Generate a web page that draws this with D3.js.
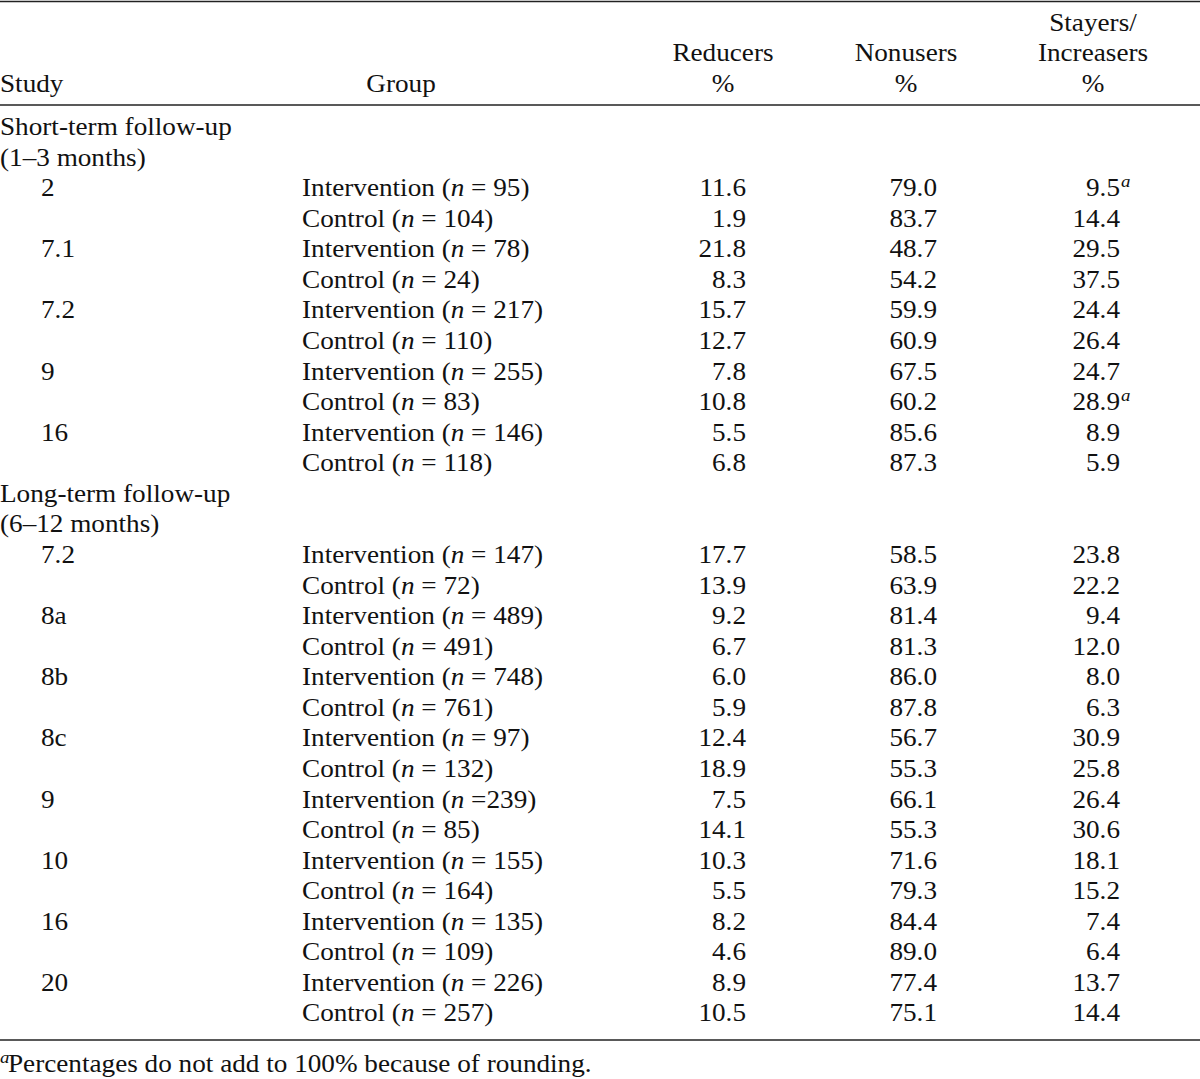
<!DOCTYPE html>
<html><head><meta charset="utf-8">
<script src="https://cdn.jsdelivr.net/npm/d3@7"></script>
<style>
html,body{margin:0;padding:0;background:#fff;}
text{font-family:"Liberation Serif","Times New Roman",serif;fill:#111;}
</style></head>
<body><svg id="c" width="1200" height="1079"></svg>
<script>
// Data
const sections = ["Short-term follow-up|(1–3 months)", "Long-term follow-up|(6–12 months)"];
const sectionOf = [0,0,0,0,0,0,0,0,0,0, 1,1,1,1,1,1,1,1,1,1,1,1,1,1,1,1];
const studies = ["2","","7.1","","7.2","","9","","16","", "7.2","","8a","","8b","","8c","","9","","10","","16","","20",""];
const groups = ["Intervention","Control","Intervention","Control","Intervention","Control","Intervention","Control","Intervention","Control",
  "Intervention","Control","Intervention","Control","Intervention","Control","Intervention","Control","Intervention","Control","Intervention","Control","Intervention","Control","Intervention","Control"];
const nLabels = [" = 95)"," = 104)"," = 78)"," = 24)"," = 217)"," = 110)"," = 255)"," = 83)"," = 146)"," = 118)",
  " = 147)"," = 72)"," = 489)"," = 491)"," = 748)"," = 761)"," = 97)"," = 132)"," =239)"," = 85)"," = 155)"," = 164)"," = 135)"," = 109)"," = 226)"," = 257)"];
const reducers = ["11.6","1.9","21.8","8.3","15.7","12.7","7.8","10.8","5.5","6.8",
  "17.7","13.9","9.2","6.7","6.0","5.9","12.4","18.9","7.5","14.1","10.3","5.5","8.2","4.6","8.9","10.5"];
const nonusers = ["79.0","83.7","48.7","54.2","59.9","60.9","67.5","60.2","85.6","87.3",
  "58.5","63.9","81.4","81.3","86.0","87.8","56.7","55.3","66.1","55.3","71.6","79.3","84.4","89.0","77.4","75.1"];
const stayers = ["9.5","14.4","29.5","37.5","24.4","26.4","24.7","28.9","8.9","5.9",
  "23.8","22.2","9.4","12.0","8.0","6.3","30.9","25.8","26.4","30.6","18.1","15.2","7.4","6.4","13.7","14.4"];
const stayerNotes = ["a","","","","","","","a","","", "","","","","","","","","","","","","","","",""];
const headers = [["Study"],["Group"],["Reducers","%"],["Nonusers","%"],["Stayers/","Increasers","%"]];
const footnote = "Percentages do not add to 100% because of rounding.";

const svg = d3.select("#c");
const FS = 24.5;
const SX = 1.11; // horizontal stretch of the type face
// Build line list
const lines = [];
let cur = -1;
for (let i = 0; i < groups.length; i++) {
  if (sectionOf[i] !== cur) {
    cur = sectionOf[i];
    sections[cur].split("|").forEach(t => lines.push({type:"sec", text:t}));
  }
  lines.push({type:"row", i});
}
const y = d3.scaleLinear().domain([0, lines.length - 1]).range([135, 1021.5]);
const colX = d3.scaleOrdinal().domain(["study","studyNum","group","red","non","stay"]).range([0, 41, 302, 746, 937, 1120]);

// rules
const rules = [1.5, 105, 1040];
svg.selectAll("line.rule").data(rules).join("line")
  .attr("x1",0).attr("x2",1200).attr("y1",d=>d).attr("y2",d=>d)
  .attr("stroke","#222").attr("stroke-width",1.6);

const T = svg.append("g").attr("transform", `scale(${SX},1)`);
function txt(x, yy, size) {
  return T.append("text").attr("font-size", size || FS).attr("x", x / SX).attr("y", yy);
}

// headers
const hdrCenters = [null, 401, 723, 906, 1093];
headers.forEach((h, k) => {
  h.forEach((t, j) => {
    const line = j + (3 - h.length);
    const tx = txt(k === 0 ? 0 : hdrCenters[k], 31 + line*30.5).text(t);
    if (k !== 0) tx.attr("text-anchor","middle");
  });
});

// body
lines.forEach((L, li) => {
  const yy = y(li);
  if (L.type === "sec") {
    txt(colX("study"), yy).text(L.text);
    return;
  }
  const i = L.i;
  if (studies[i]) txt(colX("studyNum"), yy).text(studies[i]);
  const g = txt(colX("group"), yy);
  g.append("tspan").text(groups[i] + " (");
  g.append("tspan").attr("font-style","italic").text("n");
  g.append("tspan").text(nLabels[i]);
  txt(colX("red"), yy).attr("text-anchor","end").text(reducers[i]);
  txt(colX("non"), yy).attr("text-anchor","end").text(nonusers[i]);
  txt(colX("stay"), yy).attr("text-anchor","end").text(stayers[i]);
  if (stayerNotes[i]) txt(colX("stay")+1, yy-9, 17).attr("font-style","italic").text(stayerNotes[i]);
});

// footnote
txt(0, 1063, 17).attr("font-style","italic").text("a");
txt(8, 1072).text(footnote);
</script></body></html>
